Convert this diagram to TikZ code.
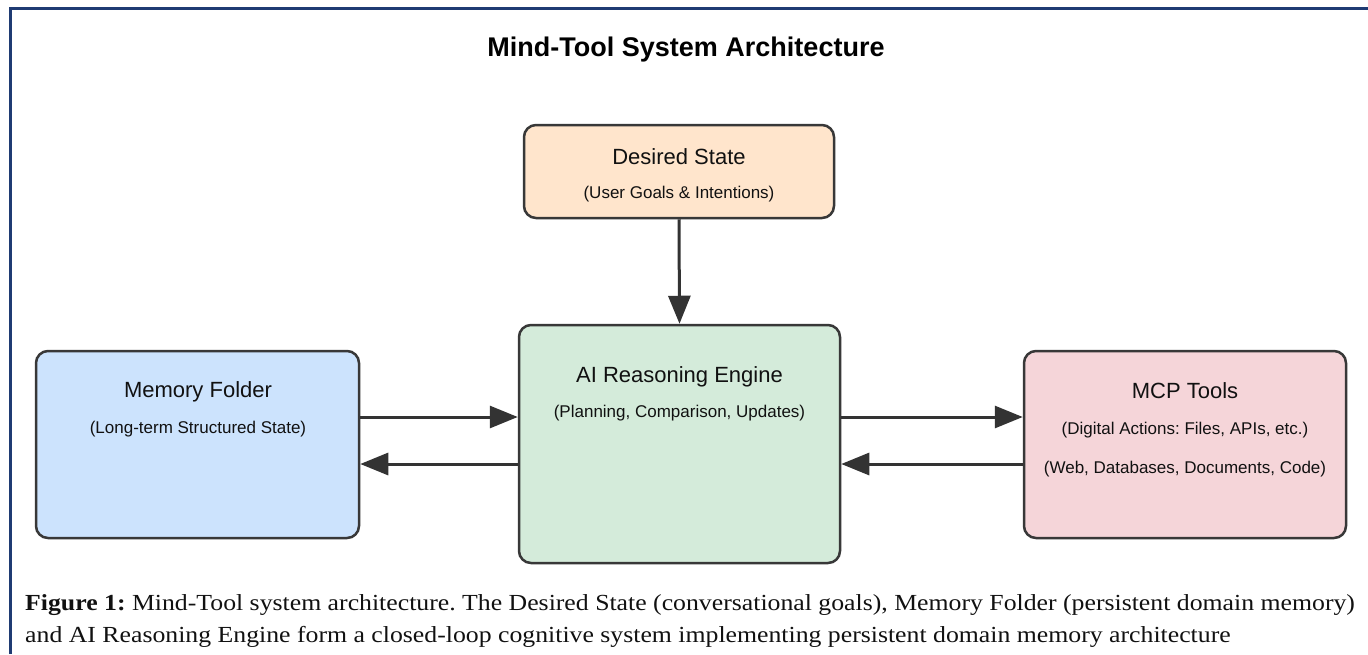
\documentclass[tikz,border=0pt]{standalone}
\usepackage{fontspec}
\setmainfont{Liberation Serif}
\setsansfont{Liberation Sans}
\newfontfamily\capfont[FakeStretch=1.12]{Liberation Serif}
\usetikzlibrary{arrows.meta,calc}

\definecolor{frameblue}{HTML}{1F3B73}
\definecolor{boxline}{HTML}{383838}
\definecolor{arrowc}{HTML}{333333}
\definecolor{peach}{HTML}{FFE5CC}
\definecolor{skyblue}{HTML}{CCE3FD}
\definecolor{mint}{HTML}{D4EBDA}
\definecolor{rose}{HTML}{F5D5D9}
\definecolor{inktext}{HTML}{111111}

\begin{document}
\frenchspacing
\begin{tikzpicture}[x=1pt,y=-1pt,
  box/.style={draw=boxline, line width=2.5pt, rounded corners=12pt, inner sep=0pt},
  ttl/.style={font=\sffamily\fontsize{22}{26}\selectfont, anchor=base, inner sep=0pt, text=inktext},
  sub/.style={font=\sffamily\fontsize{17}{20}\selectfont, anchor=base, inner sep=0pt, text=inktext},
  arr/.style={draw=arrowc, line width=3pt, -{Triangle[length=28pt,width=22pt]}},
  capt/.style={font=\capfont\fontsize{23}{27}\selectfont, anchor=base west, inner sep=0pt, text=inktext}
]
\useasboundingbox (0,0) rectangle (1368,654);
\fill[white] (0,0) rectangle (1368,654);

% frame on the top and left edges
\draw[frameblue, line width=3pt] (10.5,654) -- (10.5,8.5) -- (1368,8.5);

% heading
\node[font=\sffamily\bfseries\fontsize{27}{32}\selectfont, anchor=base, inner sep=0pt] (title) at (686,56) {Mind-Tool System Architecture};

% boxes
\node[box, fill=peach, minimum width=310pt, minimum height=93pt] (des) at (679,171.5) {};
\node[box, fill=mint, minimum width=321pt, minimum height=238pt] (ai) at (679.5,444) {};
\node[box, fill=skyblue, minimum width=323pt, minimum height=187pt] (mem) at (197.5,444.5) {};
\node[box, fill=rose, minimum width=322pt, minimum height=187pt] (mcp) at (1185,444.5) {};

% box texts
\node[ttl] (desT) at (679,164.5) {Desired State};
\node[sub] (desS) at (679,198) {(User Goals \& Intentions)};
\node[ttl] (aiT) at (679.5,382.5) {AI Reasoning Engine};
\node[sub] (aiS) at (679.5,417) {(Planning, Comparison, Updates)};
\node[ttl] (memT) at (198,397.5) {Memory Folder};
\node[sub] (memS) at (198,433) {(Long-term Structured State)};
\node[ttl] (mcpT) at (1185,398.5) {MCP Tools};
\node[sub] (mcpS) at (1185,434) {(Digital Actions: Files, APIs, etc.)};
\node[sub] (mcpS2) at (1185,473) {(Web, Databases, Documents, Code)};

% connectors
\draw[arr] (des.south) -- (ai.north);
\draw[arr] (mem.east |- 0,417) -- (ai.west |- 0,417);
\draw[arr] (ai.west |- 0,464) -- (mem.east |- 0,464);
\draw[arr] (ai.east |- 0,417) -- (mcp.west |- 0,417);
\draw[arr] (mcp.west |- 0,464) -- (ai.east |- 0,464);

% caption
\node[capt] (cap1) at (25,610) {\textbf{Figure 1:} Mind-Tool system architecture. The Desired State (conversational goals), Memory Folder (persistent domain memory)};
\node[capt] (cap2) at (25,642) {and AI Reasoning Engine form a closed-loop cognitive system implementing persistent domain memory architecture};
\end{tikzpicture}
\end{document}
